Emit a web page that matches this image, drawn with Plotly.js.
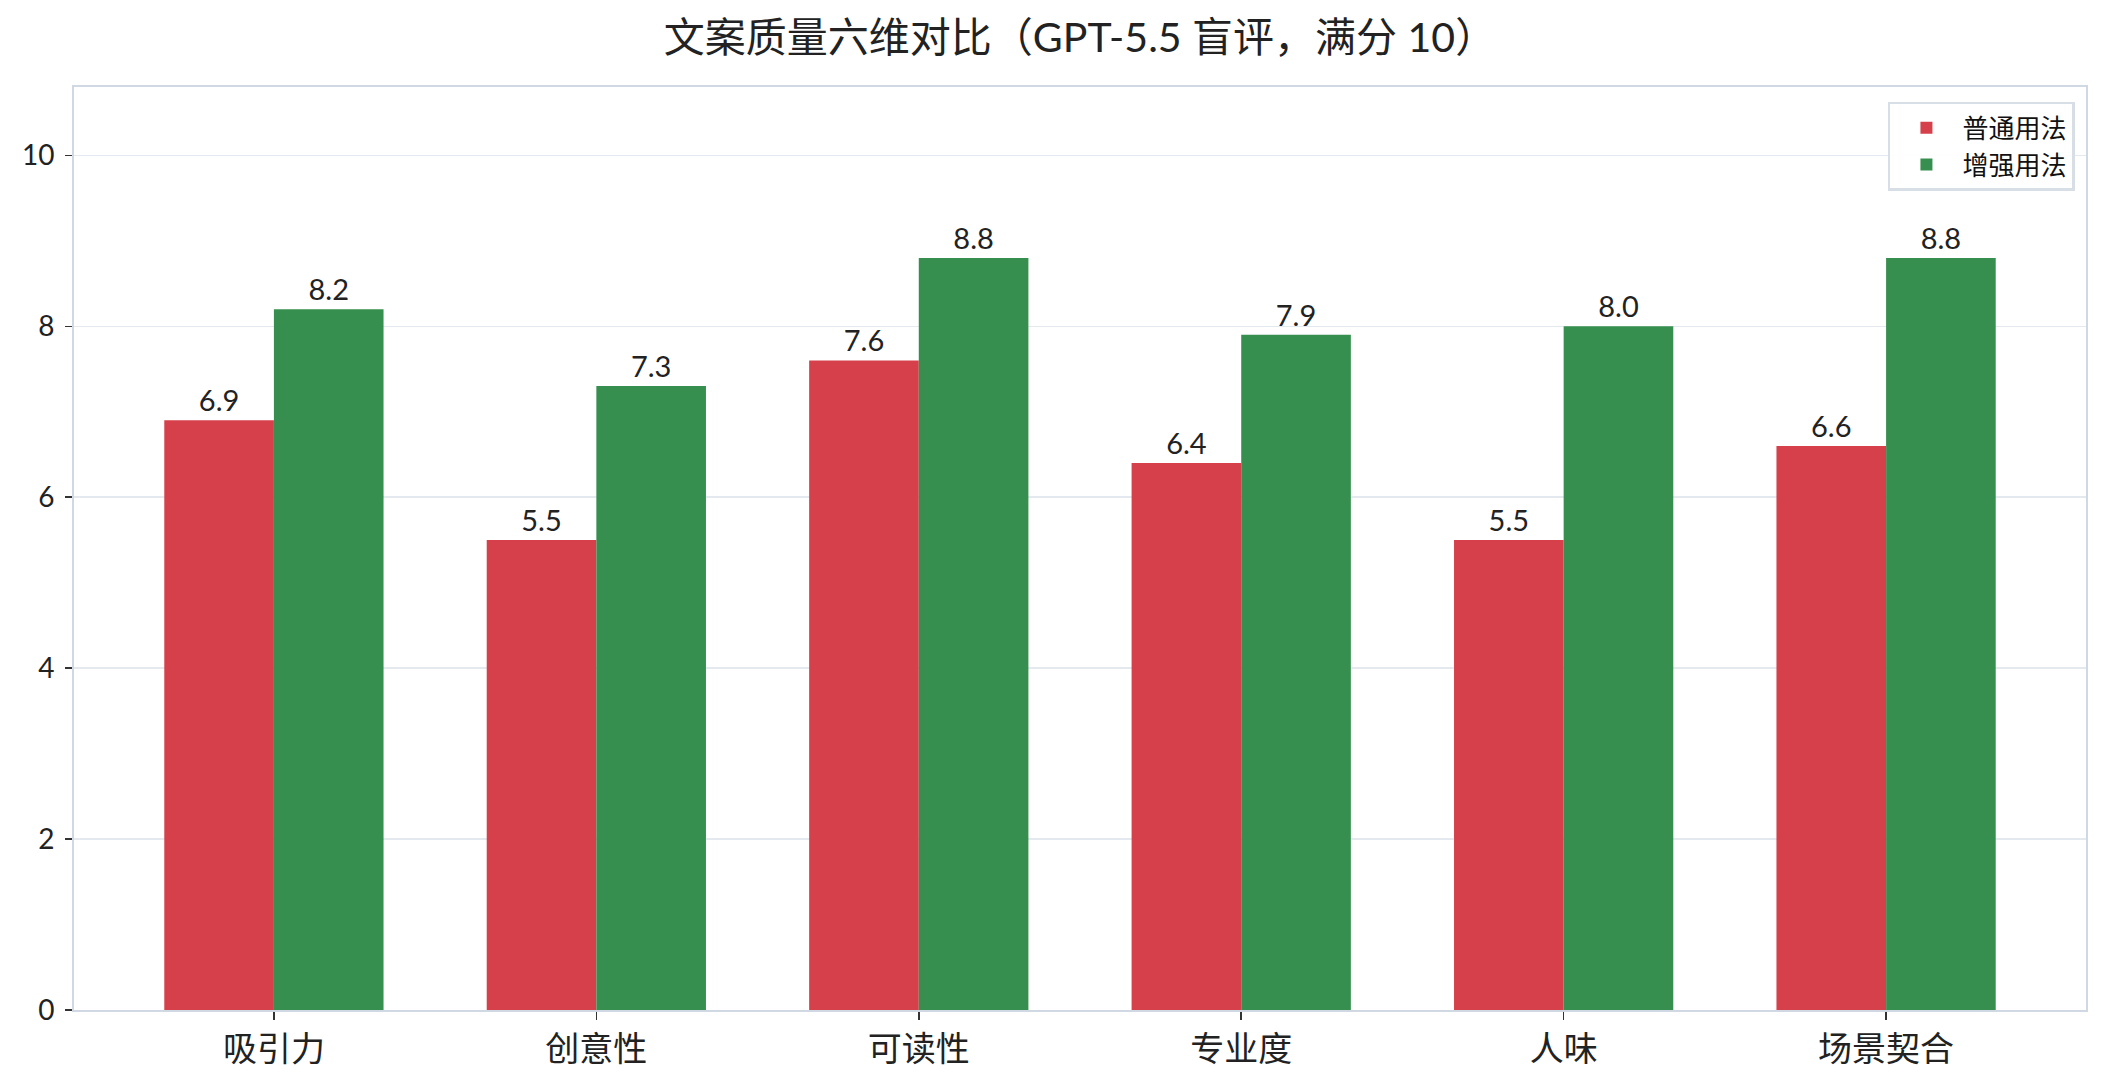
<!DOCTYPE html>
<html>
<head>
<meta charset="utf-8">
<script src="https://cdn.plot.ly/plotly-3.0.1.min.js"></script>
<style>html,body{margin:0;padding:0;background:#fff;}#chart{width:2108px;height:1085px;}</style>
</head>
<body>
<div id="chart"></div>
<script>
const categories = ["吸引力", "创意性", "可读性", "专业度", "人味", "场景契合"];
const normalScores = [6.9, 5.5, 7.6, 6.4, 5.5, 6.6];
const enhancedScores = [8.2, 7.3, 8.8, 7.9, 8.0, 8.8];
const seriesNames = ["普通用法", "增强用法"];
const yTicks = [0, 2, 4, 6, 8, 10];

const FONT = "Lato, 'Noto Sans CJK SC', sans-serif";
const CJK = "'Noto Sans CJK SC', sans-serif";

const traces = [
  {
    type: "bar", name: seriesNames[0], x: categories, y: normalScores,
    marker: {color: "#d6404a", line: {width: 0}},
    texttemplate: "%{y:.1f}", textposition: "outside", cliponaxis: false,
    textfont: {family: FONT, size: 29, color: "#222"}
  },
  {
    type: "bar", name: seriesNames[1], x: categories, y: enhancedScores,
    marker: {color: "#378f4f", line: {width: 0}},
    texttemplate: "%{y:.1f}", textposition: "outside", cliponaxis: false,
    textfont: {family: FONT, size: 29, color: "#222"}
  }
];

const layout = {
  width: 2108, height: 1085,
  margin: {l: 74, r: 22, t: 87, b: 75, pad: 0},
  paper_bgcolor: "#fff", plot_bgcolor: "#fff",
  barmode: "group", bargap: 0.32, bargroupgap: 0,
  title: {
    text: "文案质量六维对比（GPT-5.5 盲评，满分 10）",
    font: {family: FONT, size: 41, color: "#222"},
    x: 0.5, xref: "paper", xanchor: "center",
    y: 1 - 38/1085, yref: "container", yanchor: "middle"
  },
  xaxis: {
    type: "category", range: [-0.62, 5.62],
    showgrid: false, zeroline: false,
    showline: true, mirror: true, linecolor: "#cfd8e3", linewidth: 2,
    ticks: "outside", ticklen: 8, tickwidth: 1.5, tickcolor: "#333",
    tickfont: {family: CJK, size: 34, color: "#222"}
  },
  yaxis: {
    range: [0, 10.8], tickvals: yTicks, ticktext: yTicks.map(String),
    showgrid: true, gridcolor: "#e4e9ef", gridwidth: 1.5, zeroline: false,
    showline: true, mirror: true, linecolor: "#cfd8e3", linewidth: 2,
    ticks: "outside", ticklen: 7, tickwidth: 1.5, tickcolor: "#333",
    ticklabelstandoff: 5,
    tickfont: {family: FONT, size: 28, color: "#222"}
  },
  legend: {
    x: 0.9945, y: 0.984, xanchor: "right", yanchor: "top",
    bgcolor: "rgba(255,255,255,0.9)", bordercolor: "#d8dee6", borderwidth: 2.5,
    font: {family: CJK, size: 26, color: "#111"},
    itemwidth: 62
  },
  showlegend: true
};

Plotly.newPlot("chart", traces, layout, {displayModeBar: false, staticPlot: true});
</script>
</body>
</html>
